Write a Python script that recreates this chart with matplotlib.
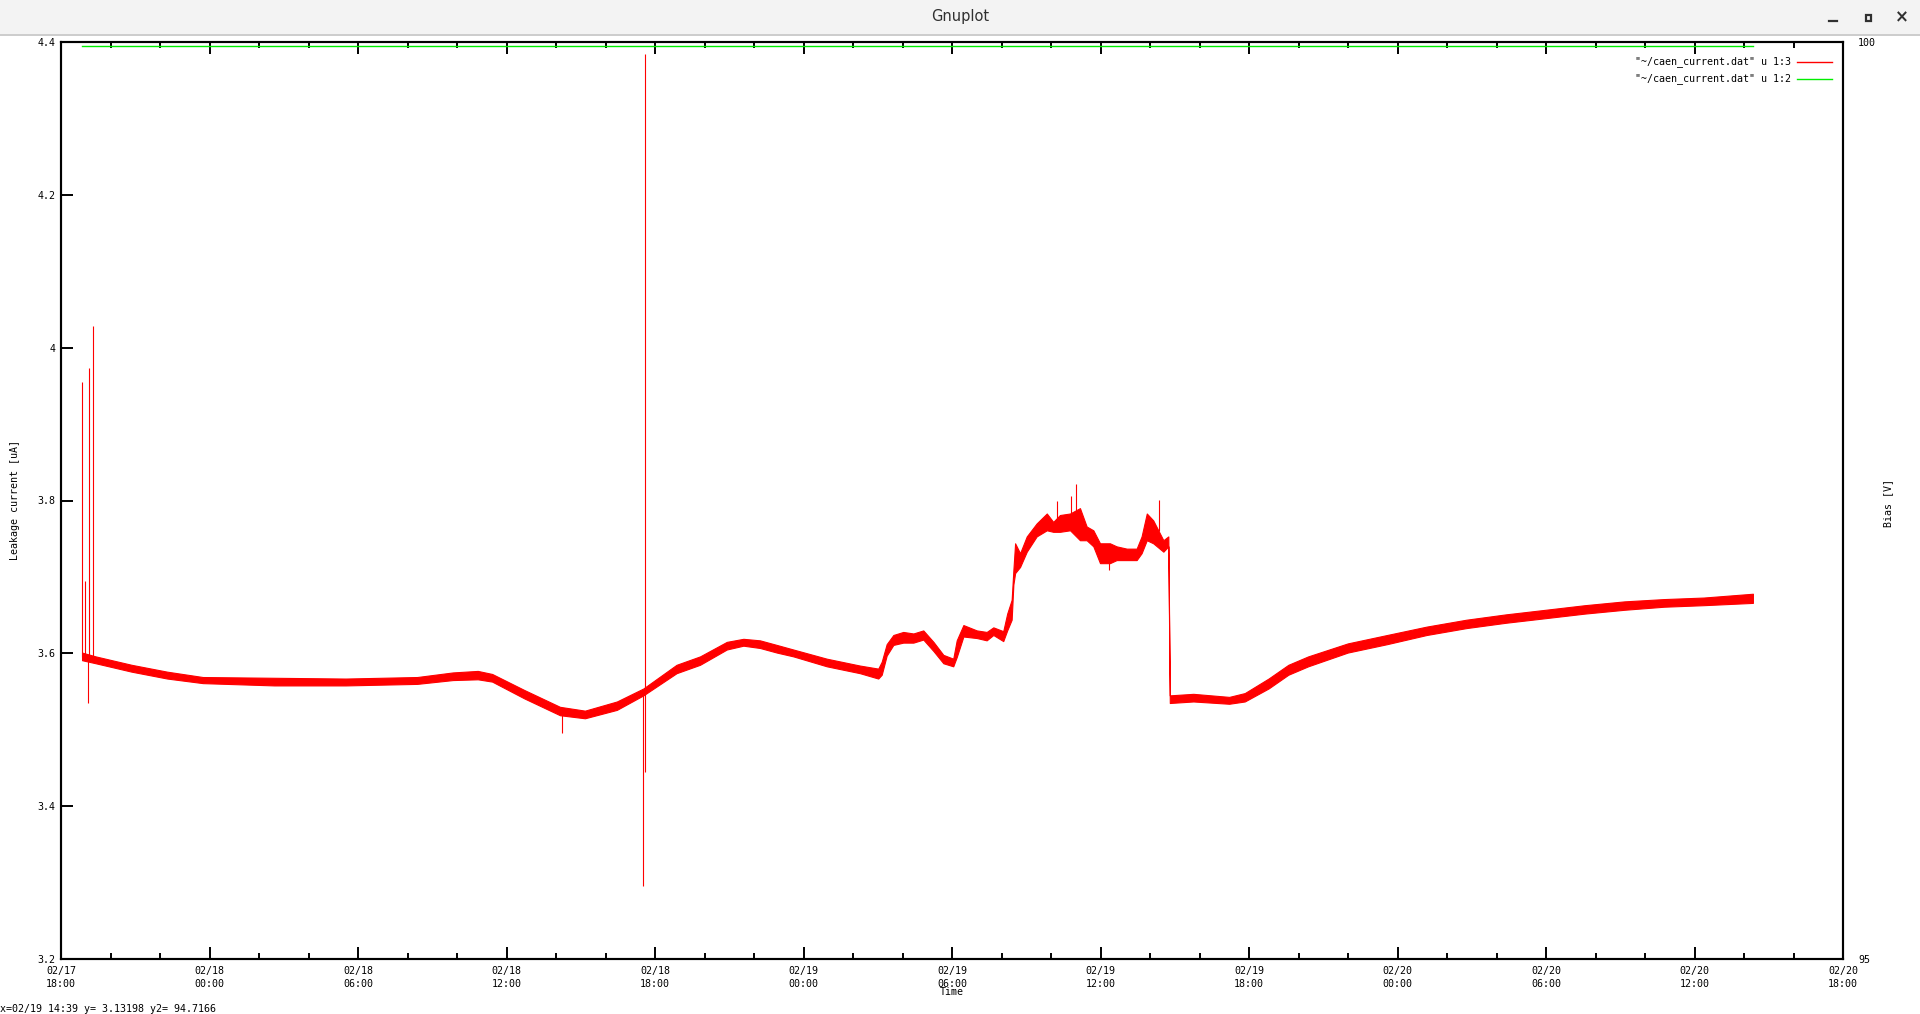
import matplotlib
matplotlib.use("Agg")
import matplotlib.pyplot as plt
import matplotlib.dates as mdates
from matplotlib.lines import Line2D
from matplotlib.patches import Rectangle
import numpy as np
import pandas as pd

# tiempo en horas desde 02/17 18:00
t0 = pd.Timestamp("2014-02-17 18:00")

# envolvente de la corriente (banda de ruido)
curr_h = [0.85, 1.40, 2.85, 4.29, 5.73, 8.62, 11.50, 14.39, 15.83, 16.84, 17.42,
          18.72, 20.16, 21.17, 22.46, 23.53, 24.87, 25.82, 26.90, 27.57, 28.24,
          28.92, 29.59, 30.94, 32.28, 33.02, 33.16, 33.36, 33.63, 34.03, 34.44,
          34.84, 35.25, 35.65, 36.05, 36.19, 36.46, 37.00, 37.40, 37.67, 38.07,
          38.23, 38.41, 38.48, 38.55, 38.75, 39.02, 39.42, 39.83, 40.09, 40.36,
          40.77, 41.17, 41.44, 41.71, 41.98, 42.38, 42.65, 43.06, 43.46, 43.66,
          43.87, 44.13, 44.54, 44.74, 44.80, 45.75, 47.20, 47.83, 48.79, 49.59,
          50.39, 51.99, 53.58, 55.18, 56.78, 58.38, 59.98, 61.57, 63.17, 64.77,
          66.37, 68.36]
curr_lo = [3.591, 3.587, 3.576, 3.567, 3.561, 3.558, 3.558, 3.560, 3.565, 3.566, 3.563,
           3.541, 3.519, 3.515, 3.526, 3.545, 3.574, 3.585, 3.605, 3.610, 3.607,
           3.601, 3.596, 3.583, 3.574, 3.567, 3.572, 3.597, 3.611, 3.614, 3.614,
           3.618, 3.603, 3.587, 3.583, 3.595, 3.622, 3.620, 3.617, 3.624, 3.616,
           3.630, 3.644, 3.690, 3.705, 3.713, 3.733, 3.753, 3.761, 3.759, 3.759,
           3.761, 3.748, 3.748, 3.740, 3.718, 3.718, 3.722, 3.722, 3.722, 3.731,
           3.748, 3.744, 3.733, 3.740, 3.535, 3.537, 3.534, 3.537, 3.554, 3.572,
           3.583, 3.601, 3.612, 3.624, 3.633, 3.640, 3.646, 3.652, 3.657, 3.661,
           3.663, 3.666]
curr_hi = [3.601, 3.596, 3.585, 3.576, 3.569, 3.568, 3.567, 3.569, 3.575, 3.577, 3.573,
           3.552, 3.530, 3.525, 3.537, 3.554, 3.585, 3.596, 3.615, 3.619, 3.617,
           3.611, 3.605, 3.593, 3.584, 3.580, 3.589, 3.612, 3.624, 3.628, 3.626,
           3.630, 3.615, 3.598, 3.593, 3.617, 3.637, 3.630, 3.628, 3.634, 3.629,
           3.652, 3.670, 3.709, 3.744, 3.731, 3.753, 3.770, 3.783, 3.772, 3.781,
           3.783, 3.790, 3.766, 3.761, 3.744, 3.744, 3.740, 3.737, 3.737, 3.753,
           3.783, 3.774, 3.748, 3.753, 3.545, 3.547, 3.543, 3.548, 3.567, 3.585,
           3.596, 3.613, 3.624, 3.635, 3.644, 3.651, 3.657, 3.663, 3.668, 3.671,
           3.673, 3.678]

# picos aislados
spike_h = [0.86, 0.98, 1.10, 1.14, 1.31, 20.26, 23.53, 23.61, 40.23, 40.79, 41.01, 42.36, 44.38]
spike_lo = [3.595, 3.595, 3.535, 3.595, 3.590, 3.496, 3.296, 3.445, 3.770, 3.770, 3.770, 3.709, 3.760]
spike_hi = [3.955, 3.695, 3.595, 3.974, 4.029, 3.520, 3.550, 4.384, 3.800, 3.806, 3.822, 3.730, 3.801]

# tension de polarizacion (eje y2)
bias_h = [0.85, 68.36]
bias_v = [99.978, 99.978]

W, H = 1920, 1014


def fx(px):
    return px / W


def fy(py):
    return 1 - py / H


def to_time(horas):
    return t0 + pd.to_timedelta(np.asarray(horas), unit="h")


mono = "DejaVu Sans Mono"
fs = 7.2

fig = plt.figure(figsize=(W / 100, H / 100), dpi=100)
fig.patch.set_facecolor("white")

# barra de titulo de la ventana
fig.patches.append(Rectangle((0, fy(34)), 1, 34 / H, transform=fig.transFigure,
                             facecolor="#f3f3f3", edgecolor="none", zorder=0))
fig.lines.append(Line2D([0, 1], [fy(34.5), fy(34.5)], transform=fig.transFigure,
                        color="#c4c4c4", lw=1.2))
fig.text(fx(960), fy(17), "Gnuplot", ha="center", va="center", fontsize=10.5,
         color="#303030", family="DejaVu Sans")
fig.lines.append(Line2D([fx(1829), fx(1837)], [fy(21), fy(21)], transform=fig.transFigure,
                        color="#303030", lw=1.6))
fig.patches.append(Rectangle((fx(1865.5), fy(20.5)), 5 / W, 5 / H, transform=fig.transFigure,
                             facecolor="none", edgecolor="#303030", lw=1.6))
fig.text(fx(1902), fy(17.5), "×", ha="center", va="center", fontsize=12,
         color="#303030", fontweight="bold", family="DejaVu Sans")

ax = fig.add_axes([fx(61), fy(959), (1843 - 61) / W, (959 - 42) / H])

t_curr = to_time(curr_h)
ax.fill_between(t_curr, curr_lo, curr_hi, color="#ff0000", lw=0.8, edgecolor="#ff0000")
ax.vlines(to_time(spike_h), spike_lo, spike_hi, color="#ff0000", lw=0.8)

ax.set_xlim(t0, t0 + pd.Timedelta(hours=72))
ax.set_ylim(3.2, 4.4)
ax.set_yticks(np.arange(3.2, 4.41, 0.2))
ax.yaxis.set_major_formatter(matplotlib.ticker.FuncFormatter(lambda v, p: f"{v:g}"))
ax.xaxis.set_major_locator(mdates.HourLocator(byhour=range(0, 24, 6)))
ax.xaxis.set_minor_locator(mdates.HourLocator(byhour=range(0, 24, 2)))
ax.xaxis.set_major_formatter(mdates.DateFormatter("%m/%d\n%H:%M"))

ax.tick_params(which="both", direction="in", top=True, right=True, width=1.4,
               labelsize=fs, colors="black")
ax.tick_params(which="major", length=8.5)
ax.tick_params(which="minor", length=4)
ax.tick_params(axis="x", pad=5)
ax.tick_params(axis="y", pad=4)
for lab in ax.get_xticklabels() + ax.get_yticklabels():
    lab.set_family(mono)
    lab.set_linespacing(1.35)
for sp in ax.spines.values():
    sp.set_linewidth(1.5)

ax2 = ax.twinx()
ax2.plot(to_time(bias_h), bias_v, color="#00ee00", lw=1.0)
ax2.set_ylim(95, 100)
ax2.set_yticks([95, 100])
ax2.set_yticklabels(["95", "100"], family=mono, fontsize=fs)
ax2.tick_params(axis="y", length=0, pad=11)
for sp in ax2.spines.values():
    sp.set_linewidth(1.5)

# etiquetas de ejes
fig.text(fx(15), fy(500), "Leakage current [uA]", rotation=90, ha="center", va="center",
         family=mono, fontsize=fs)
fig.text(fx(1888), fy(503), "Bias [V]", rotation=90, ha="center", va="center",
         family=mono, fontsize=fs)
fig.text(fx(952), fy(992), "Time", ha="center", va="center", family=mono, fontsize=fs)

# leyenda
for py, lab, col in [(62, "\"~/caen_current.dat\" u 1:3", "#ff0000"),
                     (79, "\"~/caen_current.dat\" u 1:2", "#00ee00")]:
    fig.text(fx(1791), fy(py), lab, ha="right", va="center", family=mono, fontsize=fs)
    fig.lines.append(Line2D([fx(1797), fx(1832)], [fy(py), fy(py)],
                            transform=fig.transFigure, color=col, lw=1.0))

# barra de estado
fig.text(0, fy(1009), "x=02/19 14:39 y= 3.13198 y2= 94.7166", ha="left", va="center",
         family=mono, fontsize=fs)

fig.savefig("out.png", dpi=100)
